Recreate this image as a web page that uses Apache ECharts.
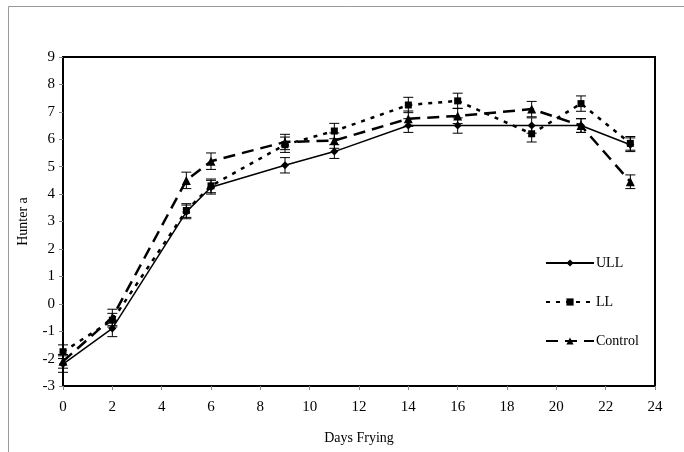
<!DOCTYPE html>
<html>
<head>
<meta charset="utf-8">
<script src="https://cdn.jsdelivr.net/npm/echarts@6/dist/echarts.min.js"></script>
<style>
html, body { margin: 0; padding: 0; background: #fff; }
#chart { width: 684px; height: 452px; }
</style>
</head>
<body>
<div id="chart"></div>
<script>
// days of frying
const days = [0, 2, 5, 6, 9, 11, 14, 16, 19, 21, 23];

// Hunter a values
const ull = [-2.2, -0.9, 3.35, 4.25, 5.05, 5.55, 6.5, 6.5, 6.5, 6.5, 5.8];
const ll = [-1.75, -0.6, 3.4, 4.3, 5.8, 6.3, 7.25, 7.4, 6.2, 7.3, 5.85];
const control = [-2.1, -0.5, 4.5, 5.2, 5.9, 5.95, 6.75, 6.85, 7.1, 6.5, 4.45];

// standard error (+/-)
const ullErr = [0.3, 0.3, 0.25, 0.25, 0.28, 0.25, 0.25, 0.28, 0.28, 0.25, 0.25];
const llErr = [0.25, 0.25, 0.25, 0.25, 0.28, 0.28, 0.28, 0.28, 0.3, 0.28, 0.25];
const controlErr = [0.25, 0.3, 0.3, 0.3, 0.28, 0.28, 0.28, 0.28, 0.28, 0.25, 0.25];

const font = "Liberation Serif";

const chart = echarts.init(document.getElementById("chart"));

function pairs(vals) {
	return days.map((d, i) => [d, vals[i]]);
}

function errSeries(vals, errs) {
	return {
		type: "custom",
		silent: true,
		z: 1,
		data: days.map((d, i) => [d, vals[i] - errs[i], vals[i] + errs[i]]),
		renderItem(params, api) {
			const lo = api.coord([api.value(0), api.value(1)]);
			const hi = api.coord([api.value(0), api.value(2)]);
			const w = 5;
			const style = { stroke: "#000", lineWidth: 1 };
			return {
				type: "group",
				children: [
					{ type: "line", shape: { x1: lo[0], y1: lo[1], x2: hi[0], y2: hi[1] }, style },
					{ type: "line", shape: { x1: lo[0] - w, y1: lo[1], x2: lo[0] + w, y2: lo[1] }, style },
					{ type: "line", shape: { x1: hi[0] - w, y1: hi[1], x2: hi[0] + w, y2: hi[1] }, style },
				],
			};
		},
	};
}

const option = {
	animation: false,
	backgroundColor: "#fff",
	textStyle: { fontFamily: font, color: "#000" },
	graphic: [
		{ type: "line", shape: { x1: 8.5, y1: 6.5, x2: 684, y2: 6.5 }, style: { stroke: "#999", lineWidth: 1 } },
		{ type: "line", shape: { x1: 8.5, y1: 6.5, x2: 8.5, y2: 452 }, style: { stroke: "#999", lineWidth: 1 } },
	],
	grid: {
		left: 63,
		right: 29,
		top: 57,
		bottom: 66,
		outerBoundsMode: "none",
		show: true,
		borderColor: "#000",
		borderWidth: 2,
	},
	legend: {
		orient: "vertical",
		left: 540,
		top: 251,
		itemWidth: 48,
		itemHeight: 9,
		itemGap: 25,
		textStyle: { fontFamily: font, fontSize: 14, color: "#000", padding: [0, 0, 0, -3] },
		data: ["ULL", "LL", "Control"],
	},
	xAxis: {
		type: "value",
		min: 0,
		max: 24,
		interval: 2,
		name: "Days Frying",
		nameLocation: "middle",
		nameGap: 45,
		nameTextStyle: { fontFamily: font, fontSize: 14, color: "#000" },
		axisLine: { onZero: false, lineStyle: { color: "#000", width: 2 } },
		axisTick: { show: true, length: 4, lineStyle: { color: "#888" } },
		axisLabel: { fontFamily: font, fontSize: 15, color: "#000", margin: 14 },
		splitLine: { show: false },
	},
	yAxis: {
		type: "value",
		min: -3,
		max: 9,
		interval: 1,
		name: "Hunter a",
		nameLocation: "middle",
		nameGap: 33,
		nameRotate: 90,
		nameTextStyle: { fontFamily: font, fontSize: 14, color: "#000" },
		axisLine: { onZero: false, lineStyle: { color: "#000", width: 2 } },
		axisTick: { show: true, length: 4, lineStyle: { color: "#888" } },
		axisLabel: { fontFamily: font, fontSize: 15, color: "#000", margin: 8 },
		splitLine: { show: false },
	},
	series: [
		errSeries(ull, ullErr),
		errSeries(ll, llErr),
		errSeries(control, controlErr),
		{
			name: "ULL",
			type: "line",
			data: pairs(ull),
			symbol: "diamond",
			symbolSize: 8,
			z: 3,
			itemStyle: { color: "#000" },
			lineStyle: { color: "#000", width: 1.5, type: "solid" },
		},
		{
			name: "LL",
			type: "line",
			data: pairs(ll),
			symbol: "rect",
			symbolSize: 7,
			z: 3,
			itemStyle: { color: "#000" },
			lineStyle: { color: "#000", width: 2.5, type: [4, 6] },
		},
		{
			name: "Control",
			type: "line",
			data: pairs(control),
			symbol: "triangle",
			symbolSize: 9,
			z: 3,
			itemStyle: { color: "#000" },
			lineStyle: { color: "#000", width: 2.5, type: [12, 7] },
		},
	],
};

chart.setOption(option);
</script>
</body>
</html>
